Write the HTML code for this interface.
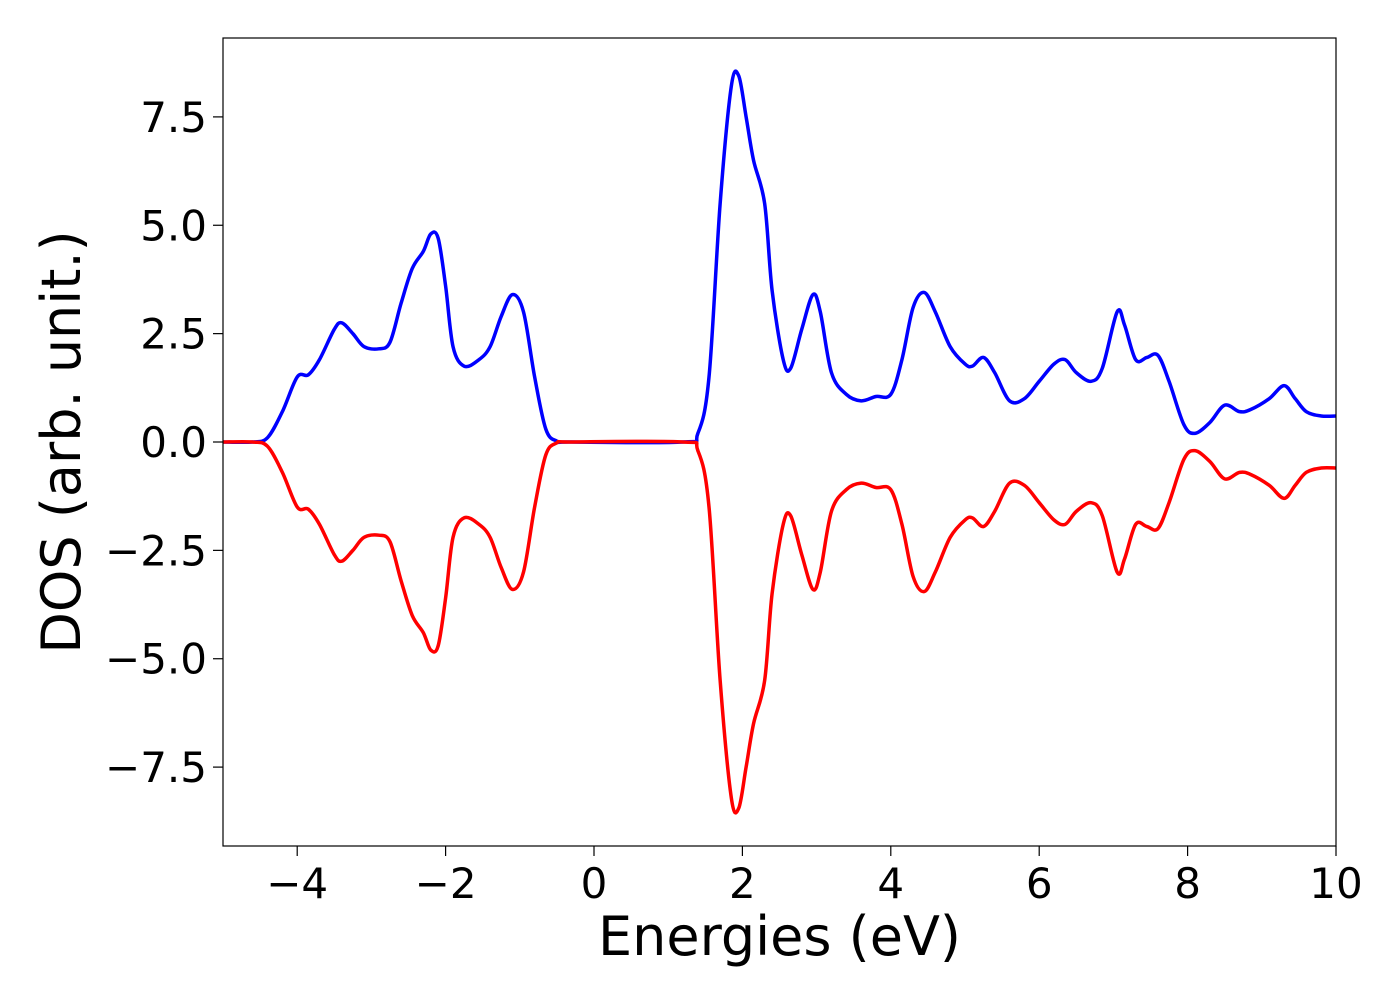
<!DOCTYPE html>
<html><head><meta charset="utf-8"><style>
html,body{margin:0;padding:0;background:#fff;}
svg text{font-family:"DejaVu Sans","Liberation Sans",sans-serif;fill:#000;}
</style></head><body>
<svg id="chart" width="1400" height="1000" xmlns="http://www.w3.org/2000/svg">
<rect x="0" y="0" width="1400" height="1000" fill="#fff"/>
<g id="plot"></g>
</svg>
<script>
const energies = [-5,-4.6,-4.4,-4.2,-4.0,-3.85,-3.7,-3.5,-3.4,-3.25,-3.1,-2.9,-2.75,-2.6,-2.45,-2.3,-2.2,-2.1,-2.0,-1.9,-1.75,-1.55,-1.4,-1.25,-1.1,-0.95,-0.8,-0.65,-0.5,-0.3,1.2,1.4,1.55,1.7,1.85,1.95,2.05,2.15,2.3,2.4,2.55,2.65,2.8,2.95,3.05,3.2,3.4,3.6,3.8,4.0,4.15,4.3,4.45,4.6,4.8,5.0,5.1,5.25,5.4,5.6,5.8,6.0,6.2,6.35,6.5,6.7,6.85,7.05,7.15,7.3,7.45,7.6,7.75,7.95,8.1,8.3,8.5,8.7,8.85,9.1,9.3,9.45,9.6,9.8,10];
const dosUp = [0,0,0.1,0.7,1.5,1.55,1.9,2.6,2.75,2.5,2.2,2.15,2.3,3.2,4.0,4.4,4.8,4.7,3.6,2.2,1.75,1.9,2.2,2.9,3.4,3.0,1.5,0.3,0.02,0,0,0.2,1.5,5.5,8.2,8.45,7.5,6.5,5.5,3.5,1.9,1.7,2.6,3.4,3.0,1.6,1.1,0.95,1.05,1.1,1.9,3.1,3.45,3.0,2.2,1.8,1.75,1.95,1.6,0.95,1.0,1.4,1.8,1.9,1.6,1.4,1.7,3.0,2.7,1.9,1.95,2.0,1.4,0.4,0.2,0.45,0.85,0.7,0.75,1.0,1.3,1.0,0.7,0.6,0.6];
const dosDown = [0,0,-0.1,-0.7,-1.5,-1.55,-1.9,-2.6,-2.75,-2.5,-2.2,-2.15,-2.3,-3.2,-4.0,-4.4,-4.8,-4.7,-3.6,-2.2,-1.75,-1.9,-2.2,-2.9,-3.4,-3.0,-1.5,-0.3,-0.02,0,0,-0.2,-1.5,-5.5,-8.2,-8.45,-7.5,-6.5,-5.5,-3.5,-1.9,-1.7,-2.6,-3.4,-3.0,-1.6,-1.1,-0.95,-1.05,-1.1,-1.9,-3.1,-3.45,-3.0,-2.2,-1.8,-1.75,-1.95,-1.6,-0.95,-1.0,-1.4,-1.8,-1.9,-1.6,-1.4,-1.7,-3.0,-2.7,-1.9,-1.95,-2.0,-1.4,-0.4,-0.2,-0.45,-0.85,-0.7,-0.75,-1.0,-1.3,-1.0,-0.7,-0.6,-0.6];
const xTicks = [-4,-2,0,2,4,6,8,10];
const yTicks = [-7.5,-5.0,-2.5,0.0,2.5,5.0,7.5];

const L=223,R=1336,T=38,B=846;
const xMin=-5,xMax=10,yMin=-9.32,yMax=9.32;
const sx=v=>L+(v-xMin)/(xMax-xMin)*(R-L);
const sy=v=>B-(v-yMin)/(yMax-yMin)*(B-T);
const NS="http://www.w3.org/2000/svg";
const g=document.getElementById('plot');
function mk(tag,attrs){const e=document.createElementNS(NS,tag);for(const k in attrs)e.setAttribute(k,attrs[k]);g.appendChild(e);return e;}
function path(xs,ys){
  const p=xs.map((x,i)=>[sx(x),sy(ys[i])]);
  let d=`M${p[0][0]},${p[0][1]}`;
  for(let i=0;i<p.length-1;i++){
    const p0=p[Math.max(i-1,0)],p1=p[i],p2=p[i+1],p3=p[Math.min(i+2,p.length-1)];
    const c1=[p1[0]+(p2[0]-p0[0])/6,p1[1]+(p2[1]-p0[1])/6];
    const c2=[p2[0]-(p3[0]-p1[0])/6,p2[1]-(p3[1]-p1[1])/6];
    d+=` C${c1[0]},${c1[1]} ${c2[0]},${c2[1]} ${p2[0]},${p2[1]}`;
  }
  return d;
}
const up=mk('path',{d:path(energies,dosUp),fill:'none',stroke:'#0000ff','stroke-width':3.5});


const dn=mk('path',{d:path(energies,dosDown),fill:'none',stroke:'#ff0000','stroke-width':3.5});


const fr=mk('rect',{x:L,y:T,width:R-L,height:B-T,fill:'none',stroke:'#000','stroke-width':1.2});


xTicks.forEach(v=>{
  const t=mk('line',{x1:sx(v),x2:sx(v),y1:B,y2:B+10,stroke:'#000','stroke-width':1.2});
  
  
  const l=mk('text',{x:sx(v),y:B+52,'font-size':42,'text-anchor':'middle'});
  l.textContent=(v<0?'\u2212':'')+Math.abs(v);
  
  
});
yTicks.forEach(v=>{
  const t=mk('line',{x1:L-10,x2:L,y1:sy(v),y2:sy(v),stroke:'#000','stroke-width':1.2});
  
  
  const l=mk('text',{x:L-16,y:sy(v)+15,'font-size':42,'text-anchor':'end'});
  l.textContent=(v<0?'\u2212':'')+Math.abs(v).toFixed(1);
  
  
});
const xt=mk('text',{x:(L+R)/2,y:955,'font-size':54,'text-anchor':'middle'});
xt.textContent='Energies (eV)';


const yt=mk('text',{x:0,y:0,'font-size':54,'text-anchor':'middle',transform:`translate(80,${(T+B)/2}) rotate(-90)`});
yt.textContent='DOS (arb. unit.)';


</script>
</body></html>
